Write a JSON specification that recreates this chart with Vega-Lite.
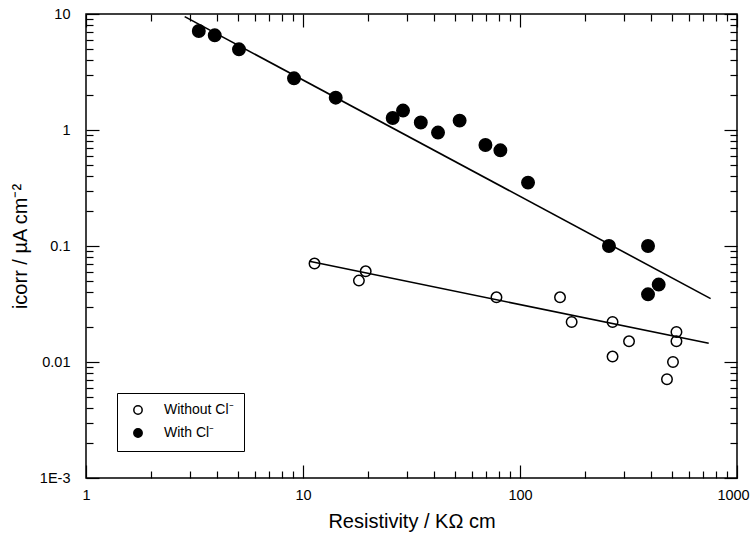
{
  "$schema": "https://vega.github.io/schema/vega-lite/v6.json",
  "width": 651,
  "height": 464,
  "autosize": "none",
  "padding": {"left": 86, "top": 14, "right": 13, "bottom": 57},
  "background": "white",
  "config": {
    "view": {"stroke": "black", "strokeWidth": 1.5},
    "font": "Liberation Sans",
    "axis": {"grid": false, "domain": false, "labelFlush": false, "tickColor": "black", "tickWidth": 1.2, "labelColor": "black", "titleColor": "black", "labelFont": "Liberation Sans", "titleFont": "Liberation Sans", "labelFontSize": 14.5, "titleFontSize": 20, "titleFontWeight": "normal"}
  },
  "datasets": {
    "pts": [
      {"R": 3.31, "i": 7.14, "s": "With Cl⁻"},
      {"R": 3.92, "i": 6.55, "s": "With Cl⁻"},
      {"R": 5.07, "i": 4.96, "s": "With Cl⁻"},
      {"R": 9.09, "i": 2.79, "s": "With Cl⁻"},
      {"R": 14.15, "i": 1.90, "s": "With Cl⁻"},
      {"R": 25.9, "i": 1.27, "s": "With Cl⁻"},
      {"R": 28.9, "i": 1.47, "s": "With Cl⁻"},
      {"R": 34.9, "i": 1.16, "s": "With Cl⁻"},
      {"R": 41.9, "i": 0.95, "s": "With Cl⁻"},
      {"R": 52.7, "i": 1.205, "s": "With Cl⁻"},
      {"R": 69.3, "i": 0.742, "s": "With Cl⁻"},
      {"R": 81.2, "i": 0.668, "s": "With Cl⁻"},
      {"R": 108.9, "i": 0.352, "s": "With Cl⁻"},
      {"R": 257, "i": 0.1, "s": "With Cl⁻"},
      {"R": 389, "i": 0.1, "s": "With Cl⁻"},
      {"R": 435.6, "i": 0.0465, "s": "With Cl⁻"},
      {"R": 389, "i": 0.0383, "s": "With Cl⁻"},
      {"R": 11.3, "i": 0.0705, "s": "Without Cl⁻"},
      {"R": 19.45, "i": 0.0605, "s": "Without Cl⁻"},
      {"R": 18.1, "i": 0.0503, "s": "Without Cl⁻"},
      {"R": 77.9, "i": 0.0361, "s": "Without Cl⁻"},
      {"R": 152.9, "i": 0.0361, "s": "Without Cl⁻"},
      {"R": 173, "i": 0.0221, "s": "Without Cl⁻"},
      {"R": 267, "i": 0.0221, "s": "Without Cl⁻"},
      {"R": 318, "i": 0.01508, "s": "Without Cl⁻"},
      {"R": 267, "i": 0.01113, "s": "Without Cl⁻"},
      {"R": 526, "i": 0.01815, "s": "Without Cl⁻"},
      {"R": 526, "i": 0.0151, "s": "Without Cl⁻"},
      {"R": 507, "i": 0.0100, "s": "Without Cl⁻"},
      {"R": 475.7, "i": 0.0071, "s": "Without Cl⁻"}
    ],
    "fits": [
      {"R": 2.85, "i": 9.5, "f": "with"},
      {"R": 756, "i": 0.0352, "f": "with"},
      {"R": 10.7, "i": 0.0738, "f": "without"},
      {"R": 740.6, "i": 0.01449, "f": "without"}
    ]
  },
  "resolve": {"axis": {"x": "independent", "y": "independent"}},
  "layer": [
    {
      "data": {"name": "fits"},
      "mark": {"type": "line", "color": "black", "strokeWidth": 1.6},
      "encoding": {
        "x": {"field": "R", "type": "quantitative", "scale": {"type": "log", "domain": [1, 1000], "nice": false},
          "axis": {"orient": "top", "title": null, "labels": false, "values": [1, 10, 100, 1000], "tickSize": -13}},
        "y": {"field": "i", "type": "quantitative", "scale": {"type": "log", "domain": [0.001, 10], "nice": false},
          "axis": {"orient": "right", "title": null, "labels": false, "values": [0.001, 0.01, 0.1, 1, 10], "tickSize": -13}},
        "detail": {"field": "f"}
      }
    },
    {
      "data": {"name": "fits"},
      "mark": {"type": "point", "opacity": 0},
      "encoding": {
        "x": {"field": "R", "type": "quantitative", "scale": {"type": "log", "domain": [1, 1000], "nice": false},
          "axis": {"orient": "top", "title": null, "labels": false, "tickSize": -7,
            "values": [2,3,4,5,6,7,8,9,20,30,40,50,60,70,80,90,200,300,400,500,600,700,800,900]}},
        "y": {"field": "i", "type": "quantitative", "scale": {"type": "log", "domain": [0.001, 10], "nice": false},
          "axis": {"orient": "right", "title": null, "labels": false, "tickSize": -7,
            "values": [0.002,0.003,0.004,0.005,0.006,0.007,0.008,0.009,0.02,0.03,0.04,0.05,0.06,0.07,0.08,0.09,0.2,0.3,0.4,0.5,0.6,0.7,0.8,0.9,2,3,4,5,6,7,8,9]}}
      }
    },
    {
      "data": {"name": "fits"},
      "mark": {"type": "point", "opacity": 0},
      "encoding": {
        "x": {"field": "R", "type": "quantitative", "scale": {"type": "log", "domain": [1, 1000], "nice": false},
          "axis": {"orient": "bottom", "title": null, "labels": false, "tickSize": -7,
            "values": [2,3,4,5,6,7,8,9,20,30,40,50,60,70,80,90,200,300,400,500,600,700,800,900]}},
        "y": {"field": "i", "type": "quantitative", "scale": {"type": "log", "domain": [0.001, 10], "nice": false},
          "axis": {"orient": "left", "title": null, "labels": false, "tickSize": -7,
            "values": [0.002,0.003,0.004,0.005,0.006,0.007,0.008,0.009,0.02,0.03,0.04,0.05,0.06,0.07,0.08,0.09,0.2,0.3,0.4,0.5,0.6,0.7,0.8,0.9,2,3,4,5,6,7,8,9]}}
      }
    },
    {
      "data": {"name": "pts"},
      "mark": {"type": "circle", "stroke": "black", "strokeWidth": 1.5, "opacity": 1},
      "encoding": {
        "x": {"field": "R", "type": "quantitative", "scale": {"type": "log", "domain": [1, 1000], "nice": false},
          "axis": {"orient": "bottom", "title": "Resistivity / KΩ cm", "titlePadding": 10,
            "values": [1, 10, 100, 1000], "tickSize": -13, "labelPadding": 23,
            "labelOffset": {"condition": {"test": "datum.value == 1000", "value": -4}, "value": 0},
            "labelExpr": "datum.value == 1000 ? '1000' : datum.label"}},
        "y": {"field": "i", "type": "quantitative", "scale": {"type": "log", "domain": [0.001, 10], "nice": false},
          "axis": {"orient": "left", "title": "icorr / µA cm⁻²", "titlePadding": 9,
            "values": [0.001, 0.01, 0.1, 1, 10], "tickSize": -13, "labelPadding": 29,
            "labelExpr": "datum.value == 10 ? '10' : datum.value == 1 ? '1' : datum.value == 0.1 ? '0.1' : datum.value == 0.01 ? '0.01' : '1E-3'"}},
        "fill": {"field": "s", "type": "nominal",
          "scale": {"domain": ["Without Cl⁻", "With Cl⁻"], "range": ["transparent", "black"]},
          "legend": {"title": null, "orient": "none", "legendX": 31, "legendY": 379, "direction": "vertical",
            "strokeColor": "black", "fillColor": "white", "padding": 10, "symbolOffset": 4, "labelOffset": 19,
            "rowPadding": 7, "symbolType": "circle", "symbolSize": 70, "symbolStrokeColor": "black", "symbolStrokeWidth": 1.5,
            "labelExpr": "datum.label + '\u00a0\u00a0\u00a0\u00a0\u00a0'",
            "labelFontSize": 14, "labelFont": "Liberation Sans", "labelColor": "black"}},
        "size": {"condition": {"test": "datum.s == 'With Cl⁻'", "value": 155}, "value": 110}
      }
    }
  ]
}
